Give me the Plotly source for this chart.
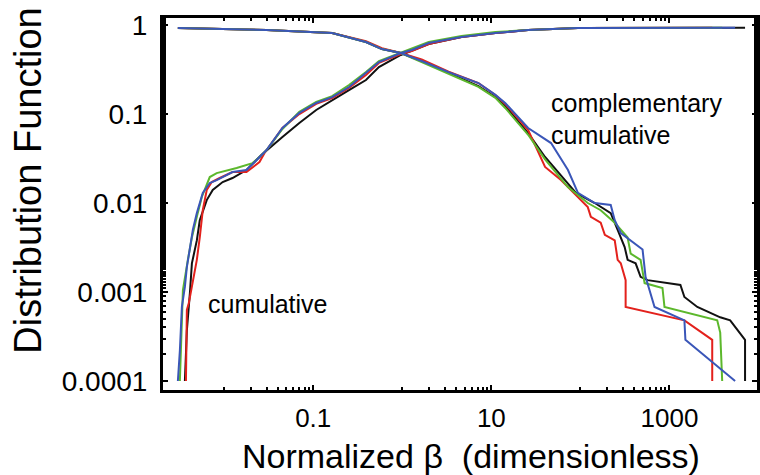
import plotly.graph_objects as go

# ---------------- data ----------------
# cumulative distribution, per run
cum_black_x = [0.00362, 0.00381, 0.00412, 0.00434, 0.00493, 0.00532, 0.00637, 0.00744, 0.00962, 0.0124,
               0.0178, 0.0231, 0.0262, 0.0451, 0.0698, 0.108, 0.163, 0.252, 0.391, 0.546,
               0.962, 1.98, 4.62, 11.1, 25.9, 93.8, 7060]
cum_black_y = [0.0001, 0.00037, 0.00097, 0.0021, 0.0038, 0.0064, 0.0108, 0.0140, 0.0172, 0.0191,
               0.0235, 0.0304, 0.0346, 0.0552, 0.0793, 0.111, 0.144, 0.186, 0.241, 0.337,
               0.461, 0.612, 0.733, 0.813, 0.879, 0.925, 0.93]

cum_red_x = [0.00372, 0.00381, 0.00401, 0.00445, 0.00493, 0.00532, 0.00575, 0.00637, 0.00725, 0.00891,
             0.0124, 0.0178, 0.0208, 0.0249, 0.0284, 0.0386, 0.0451, 0.0698, 0.108, 0.163,
             0.252, 0.391, 0.546, 0.962, 1.28, 1.98, 4.62, 11.1, 25.9, 93.8, 3022]
cum_red_y = [0.0001, 0.00063, 0.00075, 0.00136, 0.0023, 0.0041, 0.0083, 0.0140, 0.0172, 0.0191,
             0.0223, 0.0223, 0.0254, 0.0289, 0.0365, 0.0552, 0.0697, 0.100, 0.130, 0.151,
             0.196, 0.275, 0.375, 0.472, 0.51, 0.612, 0.733, 0.813, 0.879, 0.925, 0.93]

cum_green_x = [0.00318, 0.00335, 0.00344, 0.00391, 0.00434, 0.00493, 0.00561, 0.00689, 0.00824, 0.0138,
               0.0178, 0.0208, 0.0249, 0.0299, 0.0451, 0.0698, 0.108, 0.163, 0.252, 0.391,
               0.546, 0.962, 1.98, 4.62, 11.1, 25.9, 93.8, 3910]
cum_green_y = [0.0001, 0.00035, 0.00105, 0.0023, 0.0041, 0.0070, 0.0117, 0.0196, 0.0217, 0.0247,
               0.0267, 0.0281, 0.0329, 0.0394, 0.068, 0.106, 0.137, 0.159, 0.212, 0.296,
               0.394, 0.485, 0.644, 0.752, 0.834, 0.879, 0.925, 0.93]

cum_blue_x = [0.00302, 0.00318, 0.00335, 0.00362, 0.00381, 0.00412, 0.00445, 0.00493, 0.00575, 0.00689,
              0.00824, 0.0124, 0.0178, 0.0231, 0.0299, 0.0451, 0.0698, 0.108, 0.163, 0.252,
              0.391, 0.546, 0.962, 1.28, 1.98, 4.62, 11.1, 25.9, 93.8, 5460]
cum_blue_y = [0.0001, 0.00022, 0.00068, 0.00114, 0.0019, 0.0030, 0.0050, 0.0077, 0.0130, 0.0168,
              0.0181, 0.0223, 0.0235, 0.0304, 0.0394, 0.0697, 0.103, 0.133, 0.155, 0.201,
              0.289, 0.384, 0.485, 0.524, 0.628, 0.733, 0.813, 0.879, 0.925, 0.93]

# complementary cumulative distribution, per run
ccdf_black_x = [0.00302, 0.0299, 0.163, 0.391, 0.590, 0.962, 1.65, 3.31, 7.16, 11.1,
                14.3, 25.9, 40.1, 67.1, 89.1, 145, 219, 262, 314, 339,
                417, 474, 568, 1327, 1472, 2056, 3715, 4805, 7060, 7060]
ccdf_black_y = [0.925, 0.879, 0.813, 0.644, 0.537, 0.485, 0.394, 0.289, 0.206, 0.155,
                0.123, 0.0612, 0.0329, 0.0181, 0.0130, 0.0100, 0.0077, 0.0050, 0.0032, 0.0023,
                0.0021, 0.00148, 0.00136, 0.00120, 0.00088, 0.00068, 0.00052, 0.00048, 0.00029, 0.0001]

ccdf_red_x = [0.00302, 0.0299, 0.163, 0.391, 0.590, 0.962, 1.65, 3.31, 7.16, 11.1,
              14.3, 25.9, 40.1, 60.5, 72.5, 93.8, 121, 131, 169, 188,
              243, 262, 284, 322, 322, 1472, 3022, 3022]
ccdf_red_y = [0.925, 0.879, 0.813, 0.66, 0.55, 0.485, 0.41, 0.30, 0.223, 0.164,
              0.130, 0.066, 0.0254, 0.0181, 0.0151, 0.0117, 0.0090, 0.0070, 0.0060, 0.0044,
              0.0038, 0.0023, 0.0021, 0.00136, 0.00068, 0.00048, 0.00029, 0.0001]

ccdf_green_x = [0.00302, 0.0299, 0.163, 0.391, 0.590, 0.962, 1.65, 3.31, 7.16, 11.1,
                14.3, 25.9, 40.1, 72.5, 121, 169, 243, 339, 367, 474,
                526, 835, 879, 3437, 3715, 3910]
ccdf_green_y = [0.925, 0.879, 0.813, 0.644, 0.537, 0.485, 0.384, 0.282, 0.202, 0.152,
                0.117, 0.0585, 0.0309, 0.0151, 0.0100, 0.0083, 0.0060, 0.0041, 0.0027, 0.0023,
                0.00126, 0.00111, 0.00068, 0.00048, 0.00035, 0.0001]

ccdf_blue_x = [0.00302, 0.0299, 0.163, 0.391, 0.590, 0.962, 1.65, 3.31, 7.16, 11.1,
               14.3, 25.9, 46.8, 72.5, 93.8, 145, 219, 243, 284, 367,
               499, 539, 614, 680, 1472, 1510, 5460]
ccdf_blue_y = [0.925, 0.879, 0.813, 0.644, 0.537, 0.485, 0.394, 0.296, 0.223, 0.164,
               0.133, 0.0697, 0.0472, 0.0235, 0.0130, 0.0100, 0.0095, 0.0064, 0.0046, 0.0038,
               0.0030, 0.00148, 0.00097, 0.00068, 0.00048, 0.00029, 0.0001]

x_tickvals = [0.1, 10, 1000]
x_ticktext = ["0.1", "10", "1000"]
x_minor = [0.01, 0.02, 0.03, 0.04, 0.05, 0.06, 0.07, 0.08, 0.09,
           1, 2, 3, 4, 5, 6, 7, 8, 9,
           100, 200, 300, 400, 500, 600, 700, 800, 900]
y_tickvals = [1, 0.1, 0.01, 0.001, 0.0001]
y_ticktext = ["1", "0.1", "0.01", "0.001", "0.0001"]

COL = {"black": "#111111", "red": "#e3211c", "green": "#5cb82c", "blue": "#3a56b8"}

series = [
    ("black", cum_black_x, cum_black_y, ccdf_black_x, ccdf_black_y),
    ("red", cum_red_x, cum_red_y, ccdf_red_x, ccdf_red_y),
    ("green", cum_green_x, cum_green_y, ccdf_green_x, ccdf_green_y),
    ("blue", cum_blue_x, cum_blue_y, ccdf_blue_x, ccdf_blue_y),
]

fig = go.Figure()
for name, cx, cy, kx, ky in series:
    fig.add_trace(go.Scatter(x=cx, y=cy, mode="lines",
                             line=dict(color=COL[name], width=2), showlegend=False))
    fig.add_trace(go.Scatter(x=kx, y=ky, mode="lines",
                             line=dict(color=COL[name], width=2), showlegend=False))

FONT = "Liberation Sans, Arial, sans-serif"

fig.update_layout(
    width=760, height=475,
    margin=dict(l=163, r=0, t=18, b=85),
    paper_bgcolor="white", plot_bgcolor="white",
    font=dict(family=FONT, color="black"),
    xaxis=dict(
        type="log", range=[-2.687, 3.983],
        tickmode="array", tickvals=x_tickvals, ticktext=x_ticktext,
        ticks="inside", ticklen=5, tickwidth=2, tickcolor="black",
        minor=dict(tickmode="array", tickvals=x_minor, ticks="inside",
                   ticklen=3, tickwidth=2, tickcolor="black"),
        showline=True, linecolor="black", linewidth=3, mirror="ticks",
        showgrid=False, zeroline=False,
        tickfont=dict(size=26, family=FONT, color="black"),
        ticklabelstandoff=3,
    ),
    yaxis=dict(
        type="log", range=[-4.101, 0.079],
        tickmode="array", tickvals=y_tickvals, ticktext=y_ticktext,
        ticks="inside", ticklen=5, tickwidth=2, tickcolor="black",
        minor=dict(ticks="inside", ticklen=3, tickwidth=2, tickcolor="black"),
        showline=True, linecolor="black", linewidth=3, mirror="ticks",
        showgrid=False, zeroline=False,
        tickfont=dict(size=28, family=FONT, color="black"),
        ticklabelstandoff=7,
    ),
    annotations=[
        dict(text="Distribution Function", xref="paper", yref="paper",
             x=-163/597 + 27/597, y=(390 - 181) / 372, textangle=-90,
             showarrow=False, xanchor="center", yanchor="middle",
             font=dict(size=38, family=FONT, color="black")),
        dict(text="Normalized \u03b2  (dimensionless)", xref="paper", yref="paper",
             x=(473 - 163) / 597, y=-(456 - 390) / 372,
             showarrow=False, xanchor="center", yanchor="middle",
             font=dict(size=34, family=FONT, color="black")),
        dict(text="complementary", xref="paper", yref="paper",
             x=(551 - 163) / 597, y=(390 - 103) / 372,
             showarrow=False, xanchor="left", yanchor="middle",
             font=dict(size=25, family=FONT, color="black")),
        dict(text="cumulative", xref="paper", yref="paper",
             x=(551 - 163) / 597, y=(390 - 135) / 372,
             showarrow=False, xanchor="left", yanchor="middle",
             font=dict(size=25, family=FONT, color="black")),
        dict(text="cumulative", xref="paper", yref="paper",
             x=(206 - 163) / 597, y=(390 - 304) / 372,
             showarrow=False, xanchor="left", yanchor="middle",
             font=dict(size=25, family=FONT, color="black")),
    ],
)

fig.write_html("out.html")
